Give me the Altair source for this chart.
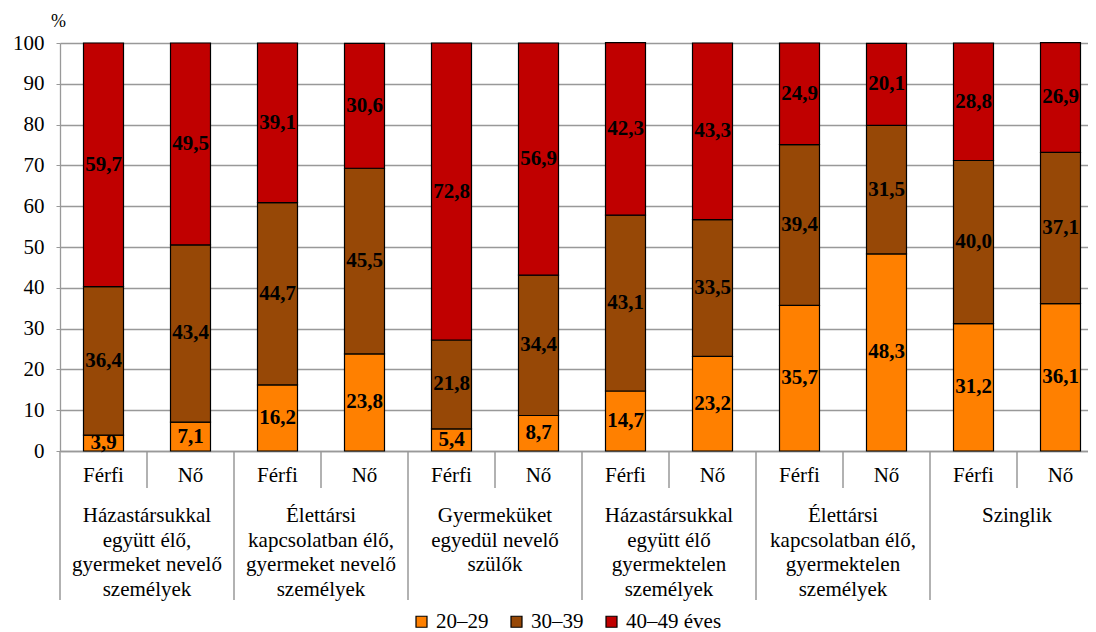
import altair as alt
import pandas as pd

groups = [
    "Házastársukkal\negyütt élő,\ngyermeket nevelő\nszemélyek",
    "Élettársi\nkapcsolatban élő,\ngyermeket nevelő\nszemélyek",
    "Gyermeküket\negyedül nevelő\nszülők",
    "Házastársukkal\negyütt élő\ngyermektelen\nszemélyek",
    "Élettársi\nkapcsolatban élő,\ngyermektelen\nszemélyek",
    "Szinglik",
]
sexes = ["Férfi", "Nő"]
ages = ["20–29", "30–39", "40–49 éves"]
colors = ["#FF8000", "#974806", "#C00000"]

v20 = [3.9, 7.1, 16.2, 23.8, 5.4, 8.7, 14.7, 23.2, 35.7, 48.3, 31.2, 36.1]
v30 = [36.4, 43.4, 44.7, 45.5, 21.8, 34.4, 43.1, 33.5, 39.4, 31.5, 40.0, 37.1]
v40 = [59.7, 49.5, 39.1, 30.6, 72.8, 56.9, 42.3, 43.3, 24.9, 20.1, 28.8, 26.9]

FONT = "Liberation Serif"
FS = 21
GRID = "#999999"

rows = []
for i in range(12):
    for k, vals in enumerate([v20, v30, v40]):
        rows.append({"pos": i + 0.5, "age": ages[k], "ord": k, "value": vals[i]})
df = pd.DataFrame(rows)

bars_df = pd.DataFrame({"pos": [i + 0.5 for i in range(12)],
                        "sex": [sexes[i % 2] for i in range(12)]})
grp_df = pd.DataFrame({"pos": [2 * g + 1 for g in range(6)], "label": groups})
sub_sep = pd.DataFrame({"pos": [2 * g + 1 for g in range(6)]})
grp_sep = pd.DataFrame({"pos": [2 * g for g in range(6)]})

xscale = alt.Scale(domain=[0, 1028 / 87], nice=False, zero=False, padding=0)
yscale = alt.Scale(domain=[0, 100], nice=False)


def X():
    return alt.X("pos:Q", scale=xscale, title=None)


bars = alt.Chart(df).mark_bar(width=40, stroke="black", strokeWidth=1.2).encode(
    x=alt.X("pos:Q", scale=xscale, title=None,
            axis=alt.Axis(labels=False, ticks=False, grid=False,
                          domainColor=GRID, domainWidth=1.5)),
    y=alt.Y("value:Q", stack="zero", scale=yscale, title="%",
            axis=alt.Axis(values=list(range(0, 101, 10)), grid=True, gridColor=GRID,
                          gridWidth=1.3, domainColor=GRID, domainWidth=1.3,
                          tickColor=GRID, tickSize=4, labelFont=FONT, labelFontSize=FS,
                          labelColor="black", labelPadding=12,
                          titleAngle=0, titleFont=FONT, titleFontSize=18,
                          titleFontWeight="normal", titleColor="black",
                          titleAlign="center", titleBaseline="middle",
                          titleX=-2, titleY=-22)),
    color=alt.Color("age:N", scale=alt.Scale(domain=ages, range=colors),
                    legend=alt.Legend(title=None, orient="none", direction="horizontal",
                                      legendX=351, legendY=568, symbolType="square",
                                      symbolSize=121, symbolStrokeColor="black",
                                      symbolStrokeWidth=1.2, labelFont=FONT,
                                      labelFontSize=FS, labelColor="black",
                                      columnPadding=17, labelOffset=4, padding=0)),
    order=alt.Order("ord:Q"),
)

labels = alt.Chart(df).transform_stack(
    stack="value", groupby=["pos"], as_=["y0", "y1"], sort=[alt.SortField("ord")]
).transform_calculate(
    mid="(datum.y0 + datum.y1) / 2",
    lab="replace(format(datum.value, '.1f'), '.', ',')",
).mark_text(font=FONT, fontSize=FS, fontWeight="bold", color="black",
            baseline="middle").encode(
    x=X(),
    y=alt.Y("mid:Q", scale=yscale, title="%"),
    text="lab:N",
)

sex_text = alt.Chart(bars_df).mark_text(font=FONT, fontSize=FS, color="black",
                                        baseline="alphabetic").encode(
    x=X(),
    y=alt.value(439),
    text="sex:N",
)

grp_text = alt.Chart(grp_df).mark_text(font=FONT, fontSize=FS, color="black",
                                       baseline="alphabetic", lineBreak="\n",
                                       lineHeight=24.5).encode(
    x=X(),
    y=alt.value(479),
    text="label:N",
)

sub_rules = alt.Chart(sub_sep).mark_rule(color=GRID, strokeWidth=1.5).encode(
    x=X(),
    y=alt.value(408), y2=alt.value(445),
)
grp_rules = alt.Chart(grp_sep).mark_rule(color=GRID, strokeWidth=1.5).encode(
    x=X(),
    y=alt.value(408), y2=alt.value(557),
)

chart = alt.layer(bars, labels, sex_text, grp_text, sub_rules, grp_rules).properties(
    width=1028, height=408,
    autosize=alt.AutoSizeParams(type="none"),
    padding={"left": 52, "top": 35, "right": 0, "bottom": 181},
).configure_view(stroke=None)

chart.save("out.html", embed_options={"renderer": "svg", "actions": False})
